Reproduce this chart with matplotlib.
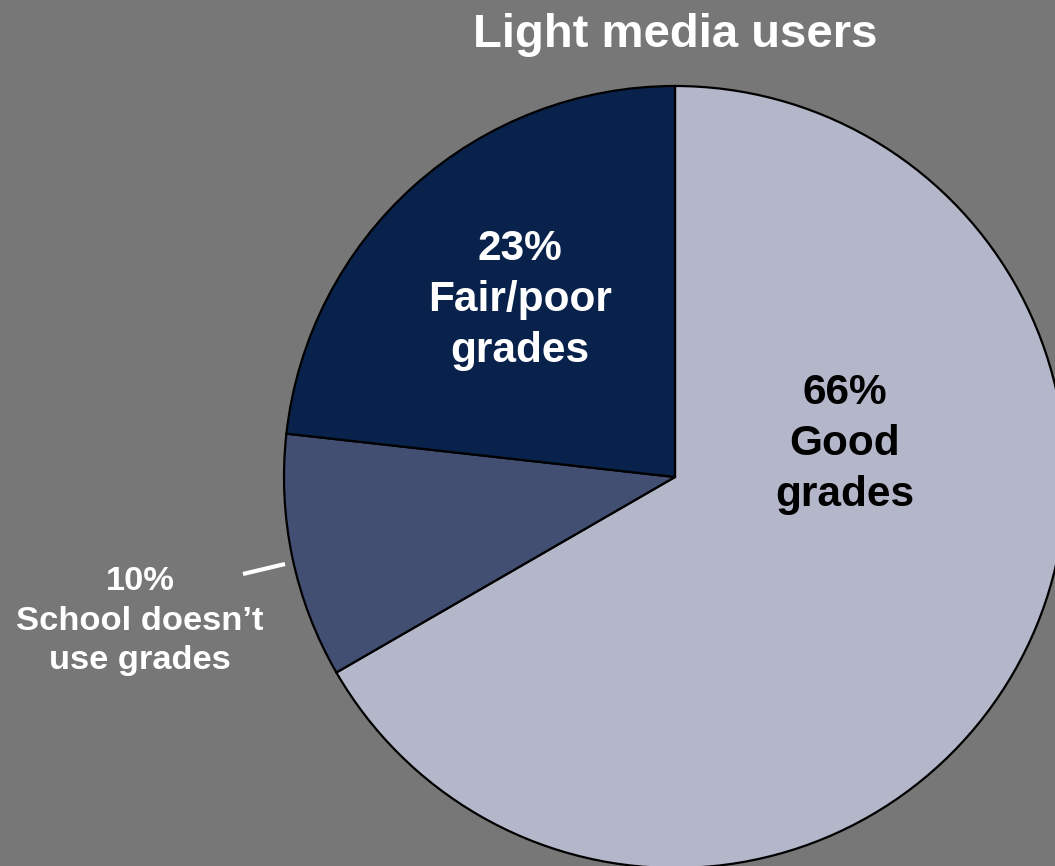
import matplotlib.pyplot as plt

# grade shares, clockwise from 12 o'clock
labels = ["Good\ngrades", "School doesn\u2019t\nuse grades", "Fair/poor\ngrades"]
shares = [66, 10, 23]
colors = ["#b4b7ca", "#434f72", "#08224b"]

W, H = 1055, 866

plt.rcParams['font.family'] = ['Liberation Sans', 'DejaVu Sans']

fig = plt.figure(figsize=(W / 100, H / 100), dpi=100)
fig.patch.set_facecolor("#777777")
ax = fig.add_axes([0, 0, 1, 1])

# pie laid out in pixel-like units (y up)
cx, cy, r = 675, H - 477, 391
ax.pie(shares, colors=colors, startangle=90, counterclock=False,
       center=(cx, cy), radius=r,
       wedgeprops=dict(edgecolor="black", linewidth=1.6))
ax.set_xlim(0, W)
ax.set_ylim(0, H)
ax.set_aspect("equal")
ax.axis("off")

ax.text(cx, H - 47, "Light media users", ha="center", va="baseline",
        fontsize=34, fontweight="bold", color="white")

ax.text(845, H - 444, f"{shares[0]}%\n{labels[0]}", ha="center", va="center",
        fontsize=30.5, fontweight="bold", color="black", linespacing=1.35)
ax.text(520, H - 300, f"{shares[2]}%\n{labels[2]}", ha="center", va="center",
        fontsize=30.5, fontweight="bold", color="white", linespacing=1.35)
ax.text(140, H - 621, f"{shares[1]}%\n{labels[1]}", ha="center", va="center",
        fontsize=24.8, fontweight="bold", color="white", linespacing=1.36)

# leader line for the small slice
ax.plot([243, 285], [H - 574, H - 564], color="white", lw=3, solid_capstyle="butt")

fig.savefig("out.png", dpi=100, facecolor=fig.get_facecolor())
